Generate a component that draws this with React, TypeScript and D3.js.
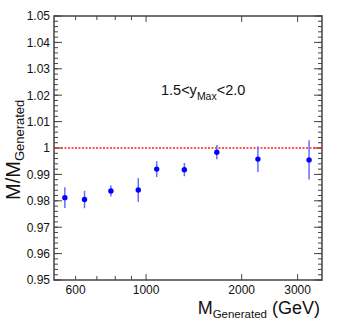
import React from "react";
import * as d3 from "d3";

const masses = [555, 640, 775, 945, 1080, 1320, 1670, 2250, 3260];
const ratios = [0.9812, 0.9805, 0.9837, 0.9841, 0.992, 0.9918, 0.9984, 0.9958, 0.9955];
const errors = [0.0039, 0.0033, 0.0021, 0.0045, 0.003, 0.0025, 0.0027, 0.0049, 0.0074];

const yMajor = [0.95, 0.96, 0.97, 0.98, 0.99, 1.0, 1.01, 1.02, 1.03, 1.04, 1.05];
const yLabels = ["0.95", "0.96", "0.97", "0.98", "0.99", "1", "1.01", "1.02", "1.03", "1.04", "1.05"];
const xLabelTicks = [600, 1000, 2000, 3000];
const xMinorTicks = [600, 700, 800, 900];
const xMajorTicks = [1000, 2000, 3000];

const width = 338;
const height = 322;
const margin = { top: 16, right: 16, bottom: 42, left: 54 };

const App = () => {
  const x = d3
    .scaleLog()
    .domain([513, 3580])
    .range([margin.left, width - margin.right]);
  const y = d3
    .scaleLinear()
    .domain([0.95, 1.05])
    .range([height - margin.bottom, margin.top]);

  const x0 = margin.left;
  const x1 = width - margin.right;
  const y0 = height - margin.bottom;
  const y1 = margin.top;

  // minor y ticks every 0.002
  const yMinor = d3.range(0, 51).map((i) => 0.95 + i * 0.002);

  const font = "Liberation Sans, Arial, sans-serif";
  const axisColor = "#444";

  return (
    <svg
      width={width}
      height={height}
      style={{ position: "absolute", left: 0, top: 0, background: "white" }}
      fontFamily={font}
    >
      {/* y ticks, both sides */}
      {yMinor.map((v, i) => (
        <g key={"ym" + i} stroke={axisColor} strokeWidth={1}>
          <line x1={x0} x2={x0 + 4} y1={y(v)} y2={y(v)} />
          <line x1={x1} x2={x1 - 4} y1={y(v)} y2={y(v)} />
        </g>
      ))}
      {yMajor.map((v, i) => (
        <g key={"yM" + i} stroke={axisColor} strokeWidth={1}>
          <line x1={x0} x2={x0 + 8} y1={y(v)} y2={y(v)} />
          <line x1={x1} x2={x1 - 8} y1={y(v)} y2={y(v)} />
        </g>
      ))}
      {yMajor.map((v, i) => (
        <text
          key={"yl" + i}
          x={x0 - 4}
          y={y(v)}
          dy="0.36em"
          textAnchor="end"
          fontSize={12}
          fill="#111"
        >
          {yLabels[i]}
        </text>
      ))}

      {/* x ticks, top and bottom */}
      {xMinorTicks.map((v, i) => (
        <g key={"xm" + i} stroke={axisColor} strokeWidth={1}>
          <line x1={x(v)} x2={x(v)} y1={y0} y2={y0 - 4} />
          <line x1={x(v)} x2={x(v)} y1={y1} y2={y1 + 4} />
        </g>
      ))}
      {xMajorTicks.map((v, i) => (
        <g key={"xM" + i} stroke={axisColor} strokeWidth={1}>
          <line x1={x(v)} x2={x(v)} y1={y0} y2={y0 - 6} />
          <line x1={x(v)} x2={x(v)} y1={y1} y2={y1 + 6} />
        </g>
      ))}
      {xLabelTicks.map((v, i) => (
        <text
          key={"xl" + i}
          x={x(v)}
          y={y0 + 14}
          textAnchor="middle"
          fontSize={12}
          fill="#111"
        >
          {v}
        </text>
      ))}

      {/* frame */}
      <rect
        x={x0}
        y={y1}
        width={x1 - x0}
        height={y0 - y1}
        fill="none"
        stroke={axisColor}
        strokeWidth={1.5}
      />

      {/* reference line at 1 */}
      <line
        x1={x0}
        x2={x1}
        y1={y(1)}
        y2={y(1)}
        stroke="#ff2020"
        strokeWidth={1.5}
        strokeDasharray="2 1.5"
      />

      {/* error bars */}
      {masses.map((m, i) => (
        <line
          key={"e" + i}
          x1={x(m)}
          x2={x(m)}
          y1={y(ratios[i] - errors[i])}
          y2={y(ratios[i] + errors[i])}
          stroke="#6a6aff"
          strokeWidth={1.5}
        />
      ))}
      {/* points */}
      {masses.map((m, i) => (
        <circle key={"p" + i} cx={x(m)} cy={y(ratios[i])} r={2.7} fill="#0000ff" />
      ))}

      {/* annotation */}
      <text x={161} y={95} fontSize={14.5} fill="#111">
        1.5&lt;y
        <tspan fontSize={10.5} dy={5}>Max</tspan>
        <tspan dy={-5}>&lt;2.0</tspan>
      </text>

      {/* x title */}
      <text x={x1 - 2} y={314} textAnchor="end" fontSize={18} fill="#111">
        M
        <tspan fontSize={11.5} dy={4}>Generated</tspan>
        <tspan dy={-4}> (GeV)</tspan>
      </text>

      {/* y title */}
      <text
        transform={`translate(20, 200) rotate(-90)`}
        textAnchor="start"
        fontSize={20}
        fill="#111"
      >
        M/M
        <tspan fontSize={13} dy={4}>Generated</tspan>
      </text>
    </svg>
  );
};

export default App;
